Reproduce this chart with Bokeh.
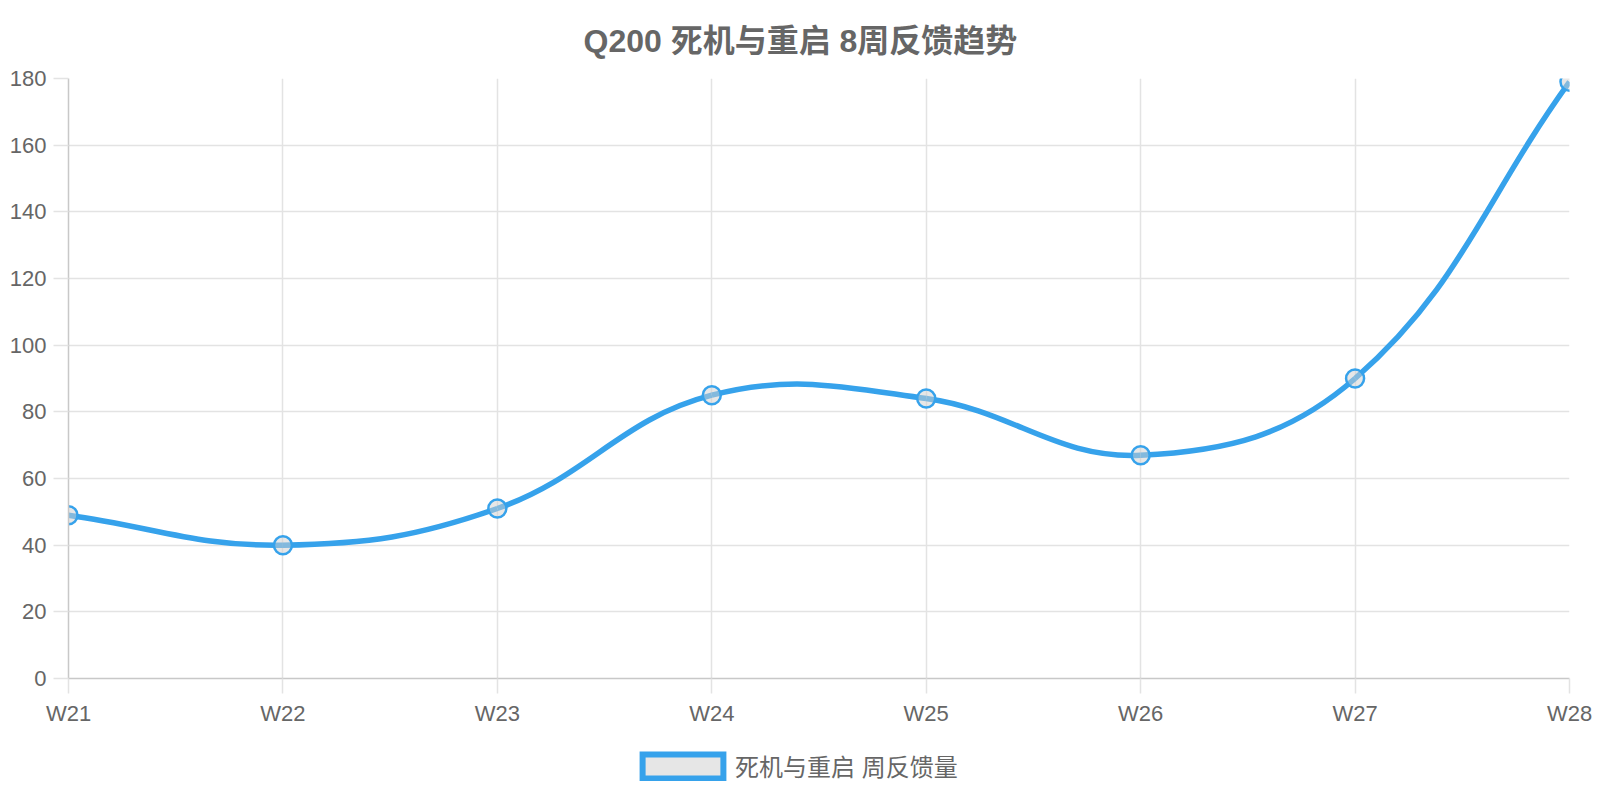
from bokeh.plotting import figure
from bokeh.layouts import column
from bokeh.models import (ColumnDataSource, Legend, LegendItem, FixedTicker, Range1d)
from bokeh.embed import file_html
from bokeh.resources import INLINE
import math

weeks = ["W21", "W22", "W23", "W24", "W25", "W26", "W27", "W28"]
counts = [49, 40, 51, 85, 84, 67, 90, 179]
y_ticks = [0, 20, 40, 60, 80, 100, 120, 140, 160, 180]
series_name = "死机与重启 周反馈量"
title_text = "Q200 死机与重启 8周反馈趋势"

BL, BT, FW, FH = 68, 78, 1501, 600
BR, BB = 23, 67
TOTAL_W = BL + FW + BR
LEG_H = 47
YMIN, YMAX = 0, 180
FONT = "Liberation Sans, 'Noto Sans CJK SC', sans-serif"
BLUE = "#36a2eb"
TXT = "#666666"

xs = list(range(len(weeks)))
XMIN, XMAX = 0, len(weeks) - 1
sx = FW / (XMAX - XMIN)
sy = FH / (YMAX - YMIN)

# Chart.js-style spline (tension 0.4) computed in pixel space
px = [x * sx for x in xs]
py = [y * sy for y in counts]
tension = 0.4
cps = []
n = len(px)
for i in range(n):
    pi = max(i - 1, 0)
    ni = min(i + 1, n - 1)
    d01 = math.hypot(px[i] - px[pi], py[i] - py[pi])
    d12 = math.hypot(px[ni] - px[i], py[ni] - py[i])
    tot = d01 + d12
    s01 = d01 / tot if tot else 0
    s12 = d12 / tot if tot else 0
    fa, fb = tension * s01, tension * s12
    prev_cp = (px[i] - fa * (px[ni] - px[pi]), py[i] - fa * (py[ni] - py[pi]))
    next_cp = (px[i] + fb * (px[ni] - px[pi]), py[i] + fb * (py[ni] - py[pi]))
    def cap(pt):
        return (min(max(pt[0], 0), FW), min(max(pt[1], 0), FH))
    cps.append((cap(prev_cp), cap(next_cp)))

seg = dict(x0=[], y0=[], x1=[], y1=[], cx0=[], cy0=[], cx1=[], cy1=[])
for i in range(n - 1):
    seg["x0"].append(xs[i]); seg["y0"].append(counts[i])
    seg["x1"].append(xs[i + 1]); seg["y1"].append(counts[i + 1])
    seg["cx0"].append(cps[i][1][0] / sx); seg["cy0"].append(cps[i][1][1] / sy)
    seg["cx1"].append(cps[i + 1][0][0] / sx); seg["cy1"].append(cps[i + 1][0][1] / sy)

p = figure(frame_width=FW, frame_height=FH, output_backend="svg", toolbar_location=None,
           x_range=Range1d(XMIN, XMAX), y_range=Range1d(YMIN, YMAX),
           min_border_left=BL, min_border_right=BR, min_border_top=BT, min_border_bottom=BB,
           title=title_text)
p.outline_line_color = None
p.background_fill_color = "white"
p.border_fill_color = "white"

p.title.align = "left"
p.title.offset = 515
p.title.text_font = FONT
p.title.text_font_size = "32px"
p.title.text_font_style = "bold"
p.title.text_color = TXT
p.title.standoff = 40

p.xaxis.ticker = FixedTicker(ticks=xs)
p.xaxis.major_label_overrides = {i: w for i, w in zip(xs, weeks)}
p.yaxis.ticker = FixedTicker(ticks=y_ticks)
for ax in (p.xaxis, p.yaxis):
    ax.axis_line_color = "#c8c8c8"
    ax.axis_line_width = 1.5
    ax.major_tick_line_color = "#e3e3e3"
    ax.major_tick_line_width = 1.5
    ax.major_tick_out = 15
    ax.major_tick_in = 0
    ax.minor_tick_line_color = None
    ax.major_label_text_font = FONT
    ax.major_label_text_font_size = "22px"
    ax.major_label_text_color = TXT
p.xaxis.major_label_standoff = 7
p.yaxis.major_label_standoff = 7

p.xgrid.ticker = FixedTicker(ticks=xs)
p.ygrid.ticker = FixedTicker(ticks=y_ticks)
p.grid.grid_line_color = "#e3e3e3"
p.grid.grid_line_width = 1.5

p.bezier(x0="x0", y0="y0", x1="x1", y1="y1", cx0="cx0", cy0="cy0", cx1="cx1", cy1="cy1",
         source=ColumnDataSource(seg), line_color=BLUE, line_width=5.5)

p.scatter(xs, counts, size=18, fill_color="#d0d0d0", fill_alpha=0.5,
          line_color=BLUE, line_width=2.5)

# legend strip below the chart
lp = figure(frame_width=TOTAL_W, frame_height=LEG_H, output_backend="svg",
            toolbar_location=None, x_axis_type=None, y_axis_type=None,
            x_range=Range1d(0, 1), y_range=Range1d(0, 1),
            min_border=0)
lp.outline_line_color = None
lp.background_fill_color = "white"
lp.border_fill_color = "white"

nan = float("nan")
dummy = lp.quad(left=[nan], right=[nan], top=[nan], bottom=[nan], fill_color="#e6e6e6",
                line_color=BLUE, line_width=6, line_join="miter")
legend = Legend(items=[LegendItem(label=series_name, renderers=[dummy])],
                location=(632, 9), orientation="horizontal",
                glyph_width=101, glyph_height=30,
                label_text_font=FONT, label_text_font_size="24px", label_text_color=TXT,
                border_line_color=None, background_fill_alpha=0,
                padding=0, margin=0, label_standoff=2)
lp.add_layout(legend, "center")

layout = column(p, lp, spacing=0)
open("out.html", "w").write(file_html(layout, INLINE))
